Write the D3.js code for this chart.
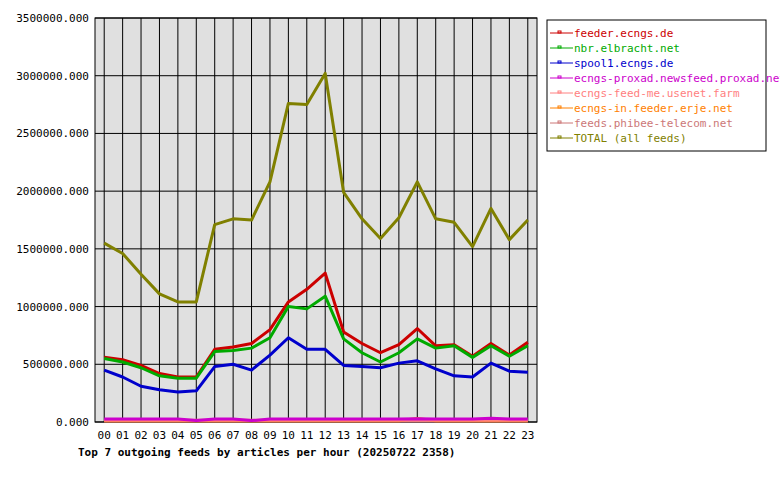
<!DOCTYPE html>
<html><head><meta charset="utf-8">
<script src="https://cdn.jsdelivr.net/npm/d3@7"></script>
<style>body{margin:0;background:#fff}text{font-family:"DejaVu Sans Mono",monospace;font-size:11px}</style>
</head><body><div id="chart"></div>
<script>
const hours = d3.range(24).map(h => String(h).padStart(2, "0"));
const yTicks = [0, 500000, 1000000, 1500000, 2000000, 2500000, 3000000, 3500000];
const feederEcngs = [560,540,490,420,390,390,630,650,680,800,1040,1150,1290,780,680,600,670,810,660,670,570,680,580,690].map(v => v * 1000);
const nbrElbracht = [550,520,470,400,380,380,610,620,640,730,1000,980,1090,720,600,520,600,720,640,660,560,660,570,660].map(v => v * 1000);
const spool1 = [450,390,310,280,260,270,480,500,450,580,730,630,630,490,480,470,510,530,460,400,390,510,440,430].map(v => v * 1000);
const proxad = [25,25,25,25,25,12,25,25,12,25,25,25,25,25,25,25,25,28,25,25,25,32,25,25].map(v => v * 1000);
const usenetFarm = [15,15,15,15,15,15,15,15,15,15,15,15,15,15,15,15,15,15,15,15,15,15,15,15].map(v => v * 1000);
const erje = [10,10,10,10,10,10,10,10,10,10,10,10,10,10,10,10,10,30,10,10,10,10,10,10].map(v => v * 1000);
const phibee = [8,8,8,8,8,8,8,8,8,8,8,8,8,8,8,8,8,8,8,8,8,8,8,8].map(v => v * 1000);
const total = [1550,1460,1280,1110,1040,1040,1710,1760,1750,2080,2760,2750,3020,1990,1760,1590,1770,2080,1760,1730,1520,1850,1580,1750].map(v => v * 1000);

const series = [
  {name: "feeder.ecngs.de", color: "#cc0000", values: feederEcngs},
  {name: "nbr.elbracht.net", color: "#00aa00", values: nbrElbracht},
  {name: "spool1.ecngs.de", color: "#0000cc", values: spool1},
  {name: "ecngs-proxad.newsfeed.proxad.net", color: "#cc00cc", values: proxad},
  {name: "ecngs-feed-me.usenet.farm", color: "#ff8080", values: usenetFarm},
  {name: "ecngs-in.feeder.erje.net", color: "#ff8000", values: erje},
  {name: "feeds.phibee-telecom.net", color: "#cc7777", values: phibee},
  {name: "TOTAL (all feeds)", color: "#808000", values: total}
];
const drawOrder = [7, 0, 1, 2, 6, 5, 4, 3];

const width = 780, height = 480;
const svg = d3.select("#chart").append("svg").attr("width", width).attr("height", height);
const pLeft = 95, pRight = 537, pTop = 18, pBottom = 422;

const x = d3.scalePoint().domain(hours).range([pLeft, pRight]).padding(0.5);
const y = d3.scaleLinear().domain([0, 3500000]).range([pBottom, pTop]);

svg.append("rect").attr("x", pLeft).attr("y", pTop).attr("width", pRight - pLeft).attr("height", pBottom - pTop)
  .attr("fill", "#e0e0e0");

// grid
svg.append("g").selectAll("line").data(hours).enter().append("line")
  .attr("x1", d => x(d)).attr("x2", d => x(d)).attr("y1", pTop).attr("y2", pBottom).attr("stroke", "#000");
svg.append("g").selectAll("line").data(yTicks).enter().append("line")
  .attr("x1", pLeft).attr("x2", pRight).attr("y1", d => y(d)).attr("y2", d => y(d)).attr("stroke", "#000");
svg.append("rect").attr("x", pLeft).attr("y", pTop).attr("width", pRight - pLeft).attr("height", pBottom - pTop)
  .attr("fill", "none").attr("stroke", "#000");

// axes labels
svg.append("g").selectAll("text").data(yTicks).enter().append("text")
  .attr("x", pLeft - 6).attr("y", d => y(d) + 4).attr("text-anchor", "end").text(d => d + ".000");
svg.append("g").selectAll("text").data(hours).enter().append("text")
  .attr("x", d => x(d)).attr("y", pBottom + 17).attr("text-anchor", "middle").text(d => d);

svg.append("text").attr("x", 78).attr("y", 456).attr("font-weight", "bold")
  .text("Top 7 outgoing feeds by articles per hour (20250722 2358)");

const line = d3.line().x((d, i) => x(hours[i])).y(d => y(d));
drawOrder.forEach(i => {
  const s = series[i];
  svg.append("path").datum(s.values).attr("d", line)
    .attr("fill", "none").attr("stroke", s.color).attr("stroke-width", 3).attr("stroke-linejoin", "round");
});

// legend
const lg = svg.append("g");
lg.append("rect").attr("x", 547).attr("y", 20).attr("width", 219).attr("height", 131)
  .attr("fill", "#fff").attr("stroke", "#000");
series.forEach((s, i) => {
  const yy = 33 + i * 15;
  lg.append("line").attr("x1", 550).attr("x2", 573).attr("y1", yy).attr("y2", yy).attr("stroke", s.color);
  lg.append("rect").attr("x", 558).attr("y", yy - 2).attr("width", 3).attr("height", 2)
    .attr("fill", "none").attr("stroke", s.color).attr("stroke-width", 1);
  lg.append("text").attr("x", 574).attr("y", yy + 4).attr("fill", s.color).text(s.name);
});
</script></body></html>
